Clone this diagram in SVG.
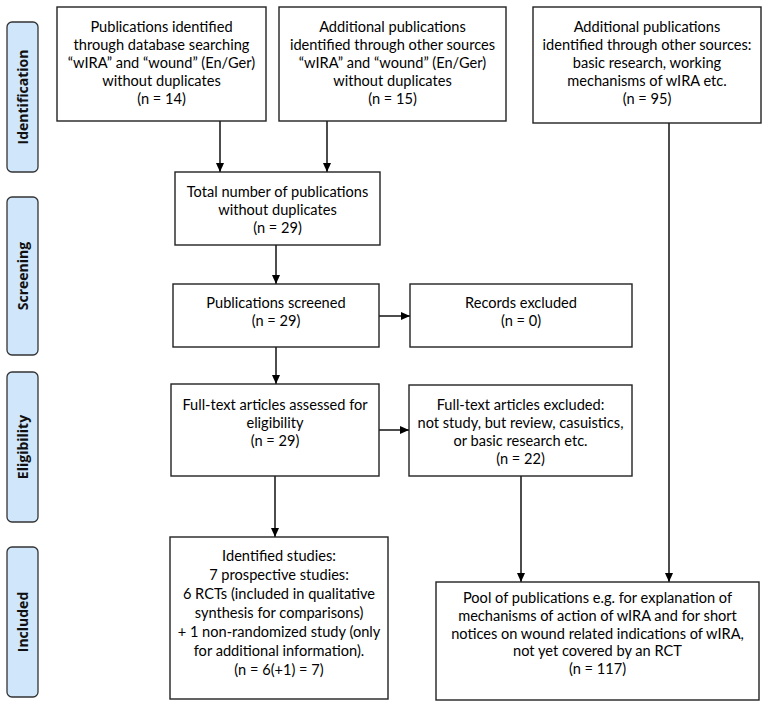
<svg xmlns="http://www.w3.org/2000/svg" width="768" height="708" viewBox="0 0 768 708">
<defs>
<marker id="arr" markerWidth="10" markerHeight="10" refX="9" refY="5" orient="auto" markerUnits="userSpaceOnUse">
<path d="M0,1 L9,5 L0,9 Z" fill="#000"/>
</marker>
<style>
.box{fill:#fff;stroke:#222;stroke-width:1.4}
.phase{fill:#cfe6fb;stroke:#333;stroke-width:1.3}
.t{font-family:Lato,"Open Sans","Liberation Sans",sans-serif;font-size:14.6px;fill:#000;text-anchor:middle}
.p{font-family:"Open Sans","Liberation Sans",sans-serif;font-size:14px;font-weight:bold;fill:#111;text-anchor:middle}
.c{stroke:#000;stroke-width:1.4;fill:none}
</style>
</defs>
<rect width="768" height="708" fill="#fff"/>
<g id="phase-identification"><rect class="phase" x="7" y="22" width="31" height="150" rx="5"/><text class="p" transform="translate(28,97) rotate(-90)">Identification</text></g>
<g id="phase-screening"><rect class="phase" x="7" y="197" width="31" height="158" rx="5"/><text class="p" transform="translate(28,276) rotate(-90)">Screening</text></g>
<g id="phase-eligibility"><rect class="phase" x="7" y="372" width="31" height="150" rx="5"/><text class="p" transform="translate(28,447) rotate(-90)">Eligibility</text></g>
<g id="phase-included"><rect class="phase" x="7" y="547" width="31" height="150" rx="5"/><text class="p" transform="translate(28,622) rotate(-90)">Included</text></g>

<g id="connectors">
<line class="c" x1="220" y1="121" x2="220" y2="172" marker-end="url(#arr)"/>
<line class="c" x1="327" y1="121" x2="327" y2="172" marker-end="url(#arr)"/>
<line class="c" x1="276" y1="245" x2="276" y2="284" marker-end="url(#arr)"/>
<line class="c" x1="379" y1="316" x2="410" y2="316" marker-end="url(#arr)"/>
<line class="c" x1="276" y1="347" x2="276" y2="384" marker-end="url(#arr)"/>
<line class="c" x1="379" y1="430" x2="409" y2="430" marker-end="url(#arr)"/>
<line class="c" x1="275" y1="476" x2="275" y2="537" marker-end="url(#arr)"/>
<line class="c" x1="521" y1="476" x2="521" y2="582" marker-end="url(#arr)"/>
<line class="c" x1="669" y1="123" x2="669" y2="582" marker-end="url(#arr)"/>
</g>

<g id="db-search"><rect class="box" x="57" y="7" width="209" height="114"/>
<text class="t" x="161.5" y="32">Publications identified</text>
<text class="t" x="161.5" y="50">through database searching</text>
<text class="t" x="161.5" y="68">“wIRA” and “wound” (En/Ger)</text>
<text class="t" x="161.5" y="86">without duplicates</text>
<text class="t" x="161.5" y="104">(n = 14)</text></g>

<g id="other-sources"><rect class="box" x="279" y="7" width="227" height="114"/>
<text class="t" x="392.5" y="32">Additional publications</text>
<text class="t" x="392.5" y="50">identified through other sources</text>
<text class="t" x="392.5" y="68">“wIRA” and “wound” (En/Ger)</text>
<text class="t" x="392.5" y="86">without duplicates</text>
<text class="t" x="392.5" y="104">(n = 15)</text></g>

<g id="basic-research"><rect class="box" x="533" y="7" width="228" height="116"/>
<text class="t" x="647" y="32">Additional publications</text>
<text class="t" x="647" y="50">identified through other sources:</text>
<text class="t" x="647" y="68">basic research, working</text>
<text class="t" x="647" y="86">mechanisms of wIRA etc.</text>
<text class="t" x="647" y="104">(n = 95)</text></g>

<g id="total"><rect class="box" x="175" y="172" width="205" height="73"/>
<text class="t" x="277.5" y="197">Total number of publications</text>
<text class="t" x="277.5" y="215">without duplicates</text>
<text class="t" x="277.5" y="233">(n = 29)</text></g>

<g id="screened"><rect class="box" x="173" y="284" width="206" height="63"/>
<text class="t" x="276" y="308">Publications screened</text>
<text class="t" x="276" y="326">(n = 29)</text></g>

<g id="records-excluded"><rect class="box" x="410" y="284" width="222" height="63"/>
<text class="t" x="521" y="308">Records excluded</text>
<text class="t" x="521" y="326">(n = 0)</text></g>

<g id="fulltext-assessed"><rect class="box" x="171" y="384" width="208" height="92"/>
<text class="t" x="275" y="410">Full-text articles assessed for</text>
<text class="t" x="275" y="428">eligibility</text>
<text class="t" x="275" y="446">(n = 29)</text></g>

<g id="fulltext-excluded"><rect class="box" x="409" y="385" width="223" height="91"/>
<text class="t" x="520.5" y="410">Full-text articles excluded:</text>
<text class="t" x="520.5" y="428">not study, but review, casuistics,</text>
<text class="t" x="520.5" y="446">or basic research etc.</text>
<text class="t" x="520.5" y="464">(n = 22)</text></g>

<g id="identified-studies"><rect class="box" x="170" y="537" width="218" height="162"/>
<text class="t" x="279" y="561">Identified studies:</text>
<text class="t" x="279" y="580">7 prospective studies:</text>
<text class="t" x="279" y="599">6 RCTs (included in qualitative</text>
<text class="t" x="279" y="618">synthesis for comparisons)</text>
<text class="t" x="279" y="637">+ 1 non-randomized study (only</text>
<text class="t" x="279" y="656">for additional information).</text>
<text class="t" x="279" y="675">(n = 6(+1) = 7)</text></g>

<g id="pool"><rect class="box" x="436" y="582" width="323" height="118"/>
<text class="t" x="597.5" y="603">Pool of publications e.g. for explanation of</text>
<text class="t" x="597.5" y="621">mechanisms of action of wIRA and for short</text>
<text class="t" x="597.5" y="639">notices on wound related indications of wIRA,</text>
<text class="t" x="597.5" y="656">not yet covered by an RCT</text>
<text class="t" x="597.5" y="674">(n = 117)</text></g>
</svg>
